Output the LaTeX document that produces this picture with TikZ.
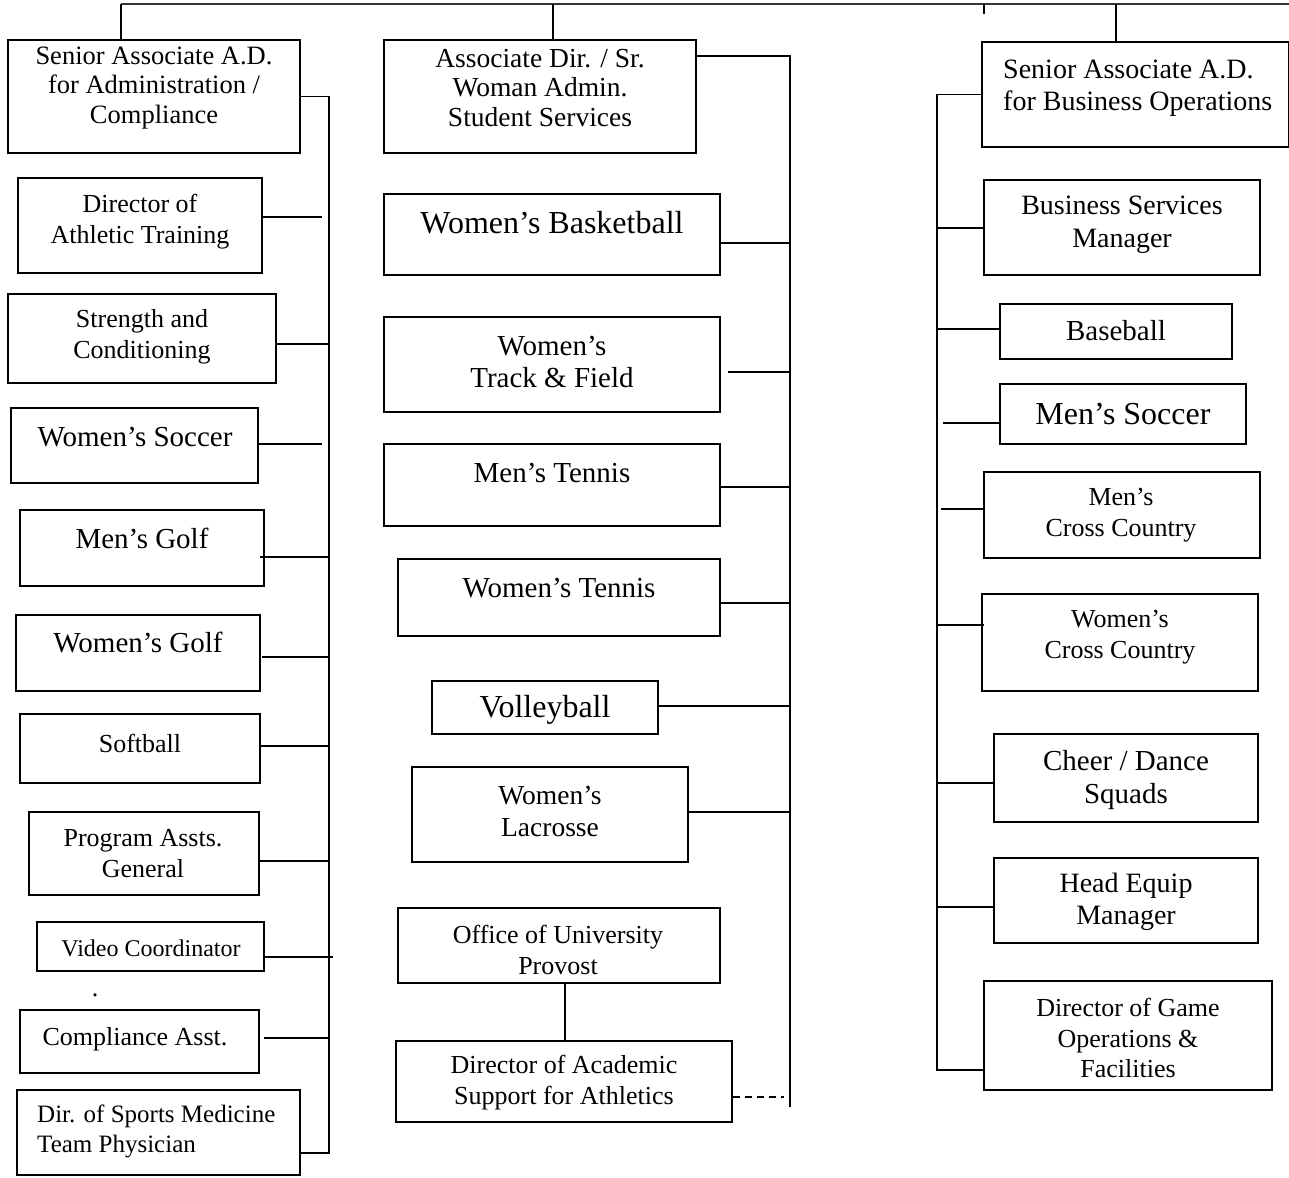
\documentclass[tikz,border=0pt]{standalone}
\usepackage{fontspec}
\setmainfont{Liberation Serif}
\newcommand\fa{\fontsize{26}{30.5}\selectfont}
\newcommand\fv{\fontsize{24}{29}\selectfont}
\newcommand\fm{\fontsize{27.5}{32}\selectfont}
\newcommand\fb{\fontsize{29}{32.5}\selectfont}
\newcommand\fc{\fontsize{32}{36}\selectfont}
\tikzset{
  orgbox/.style={draw, line width=1.6pt, inner sep=0pt},
  lbl/.style={align=center, inner sep=0pt},
  conn/.style={line width=1.3pt},
}
\newcommand\ob[9]{%
  \node[orgbox, minimum width={#4-#2}, minimum height={#5-#3}] (#1) at ({(#2+#4)/2},{(#3+#5)/2}) {};
  \node[lbl, font=#8] (#1-t) at (#6,#7) {#9};}
\begin{document}
\begin{tikzpicture}[x=1pt,y=-1pt]
\useasboundingbox (0,0) rectangle (1289,1177);
% ---------- top line ----------
\coordinate (topL) at (121,4);
\coordinate (topM) at (553,4);
\coordinate (topT) at (984,4);
\coordinate (topR) at (1116,4);
\coordinate (topE) at (1289,4);
\draw[line width=1.8pt, black!80] (topL) -- (topE);
% ---------- left column ----------
\ob{a1}{8}{40}{300}{153}{154}{88}{\fontsize{26.5}{29.5}\selectfont}{Senior Associate A.D.\\for Administration /\\Compliance}
\ob{dat}{18}{178}{262}{273}{140}{221.5}{\fa}{Director of\\Athletic Training}
\ob{sc}{8}{294}{276}{383}{142}{337}{\fa}{Strength and\\Conditioning}
\ob{ws}{11}{408}{258}{483}{135}{437}{\fb}{Women’s Soccer}
\ob{mg}{20}{510}{264}{586}{142}{538}{\fb}{Men’s Golf}
\ob{wg}{16}{615}{260}{691}{138}{643}{\fb}{Women’s Golf}
\ob{sb}{20}{714}{260}{783}{140}{743}{\fa}{Softball}
\ob{pa}{29}{812}{259}{895}{143}{853.5}{\fa}{Program Assts.\\General}
\ob{vc}{37}{922}{264}{971}{151}{948}{\fv}{Video Coordinator}
\node[lbl, font=\fa] (dot) at (95,995) {.};
\ob{ca}{20}{1010}{259}{1073}{135}{1039}{\fa}{Compliance Asst.}
\node[orgbox, minimum width=283, minimum height=85] (dsm) at (158.5,1132.5) {};
\node[lbl, align=left, anchor=west, font=\fontsize{25}{30}\selectfont] (dsm-t) at (37,1131) {Dir. of Sports Medicine\\Team Physician};
% left spine
\coordinate (spL) at (329,1153);
\draw[conn] (topL) -- (a1.north -| topL);
\draw[conn] (a1.east) -| (spL) -- (dsm.east |- spL);
\draw[conn] (dat.east |- 0,217) -- (322,217);
\draw[conn] (sc.east |- 0,344) -- (spL |- 0,344);
\draw[conn] (ws.east |- 0,444) -- (322,444);
\draw[conn] (260,557) -- (spL |- 0,557);
\draw[conn] (262,657) -- (spL |- 0,657);
\draw[conn] (sb.east |- 0,746) -- (spL |- 0,746);
\draw[conn] (pa.east |- 0,861) -- (spL |- 0,861);
\draw[conn] (vc.east |- 0,957) -- (333,957);
\draw[conn] (264,1038) -- (spL |- 0,1038);
% ---------- middle column ----------
\ob{a2}{384}{40}{696}{153}{540}{88}{\fontsize{27.5}{29.5}\selectfont}{Associate Dir. / Sr.\\Woman Admin.\\Student Services}
\ob{wb}{384}{194}{720}{275}{552}{223}{\fc}{Women’s Basketball}
\ob{wtf}{384}{317}{720}{412}{552}{362}{\fb}{Women’s\\Track \& Field}
\ob{mt}{384}{444}{720}{526}{552}{473}{\fb}{Men’s Tennis}
\ob{wt}{398}{559}{720}{636}{559}{588}{\fb}{Women’s Tennis}
\ob{vb}{432}{681}{658}{734}{545}{710}{\fc}{Volleyball}
\ob{wl}{412}{767}{688}{862}{550}{811}{\fm}{Women’s\\Lacrosse}
\ob{oup}{398}{908}{720}{983}{558}{950}{\fa}{Office of University\\Provost}
\ob{dasa}{396}{1041}{732}{1122}{564}{1082.5}{\fa}{Director of Academic\\Support for Athletics}
\coordinate (spM) at (790,1107);
\draw[conn] (topM) -- (a2.north -| topM);
\draw[conn] (a2.east |- 0,56) -| (spM);
\draw[conn] (wb.east |- 0,243) -- (spM |- 0,243);
\draw[conn] (728,372) -- (spM |- 0,372);
\draw[conn] (mt.east |- 0,487) -- (spM |- 0,487);
\draw[conn] (wt.east |- 0,603) -- (spM |- 0,603);
\draw[conn] (vb.east |- 0,706) -- (spM |- 0,706);
\draw[conn] (wl.east |- 0,812) -- (spM |- 0,812);
\draw[conn] (oup.south -| 565,0) -- (dasa.north -| 565,0);
\draw[conn, dashed, dash pattern=on 7pt off 5pt] (dasa.east |- 0,1097) -- (784,1097);
% ---------- right column ----------
\node[orgbox, minimum width=307, minimum height=105] (a3) at (1135.5,94.5) {};
\node[lbl, align=left, anchor=west, font=\fontsize{28}{32}\selectfont] (a3-t) at (1003,88.5) {Senior Associate A.D.\\for Business Operations};
\ob{bsm}{984}{180}{1260}{275}{1122}{225}{\fontsize{28}{32.5}\selectfont}{Business Services\\Manager}
\ob{bb}{1000}{304}{1232}{359}{1116}{331}{\fb}{Baseball}
\ob{ms}{1000}{384}{1246}{444}{1123}{414}{\fc}{Men’s Soccer}
\ob{mcc}{984}{472}{1260}{558}{1121}{515}{\fa}{Men’s\\Cross Country}
\ob{wcc}{982}{594}{1258}{691}{1120}{637}{\fa}{Women’s\\Cross Country}
\ob{cds}{994}{734}{1258}{822}{1126}{780}{\fb}{Cheer / Dance\\Squads}
\ob{hem}{994}{858}{1258}{943}{1126}{902}{\fontsize{28}{32}\selectfont}{Head Equip\\Manager}
\ob{dgo}{984}{981}{1272}{1090}{1128}{1038}{\fa}{Director of Game\\Operations \&\\Facilities}
\coordinate (spR) at (937,1070);
\draw[conn] (topR) -- (a3.north -| topR);
\draw[conn] (topT) -- ++(0,10);
\draw[conn] (a3.west) -| (spR) -- (dgo.west |- spR);
\draw[conn] (spR |- 0,228) -- (bsm.west |- 0,228);
\draw[conn] (spR |- 0,329) -- (bb.west |- 0,329);
\draw[conn] (943,423) -- (ms.west |- 0,423);
\draw[conn] (941,509) -- (mcc.west |- 0,509);
\draw[conn] (spR |- 0,625) -- (984,625);
\draw[conn] (spR |- 0,783) -- (cds.west |- 0,783);
\draw[conn] (spR |- 0,907) -- (hem.west |- 0,907);
\end{tikzpicture}
\end{document}
